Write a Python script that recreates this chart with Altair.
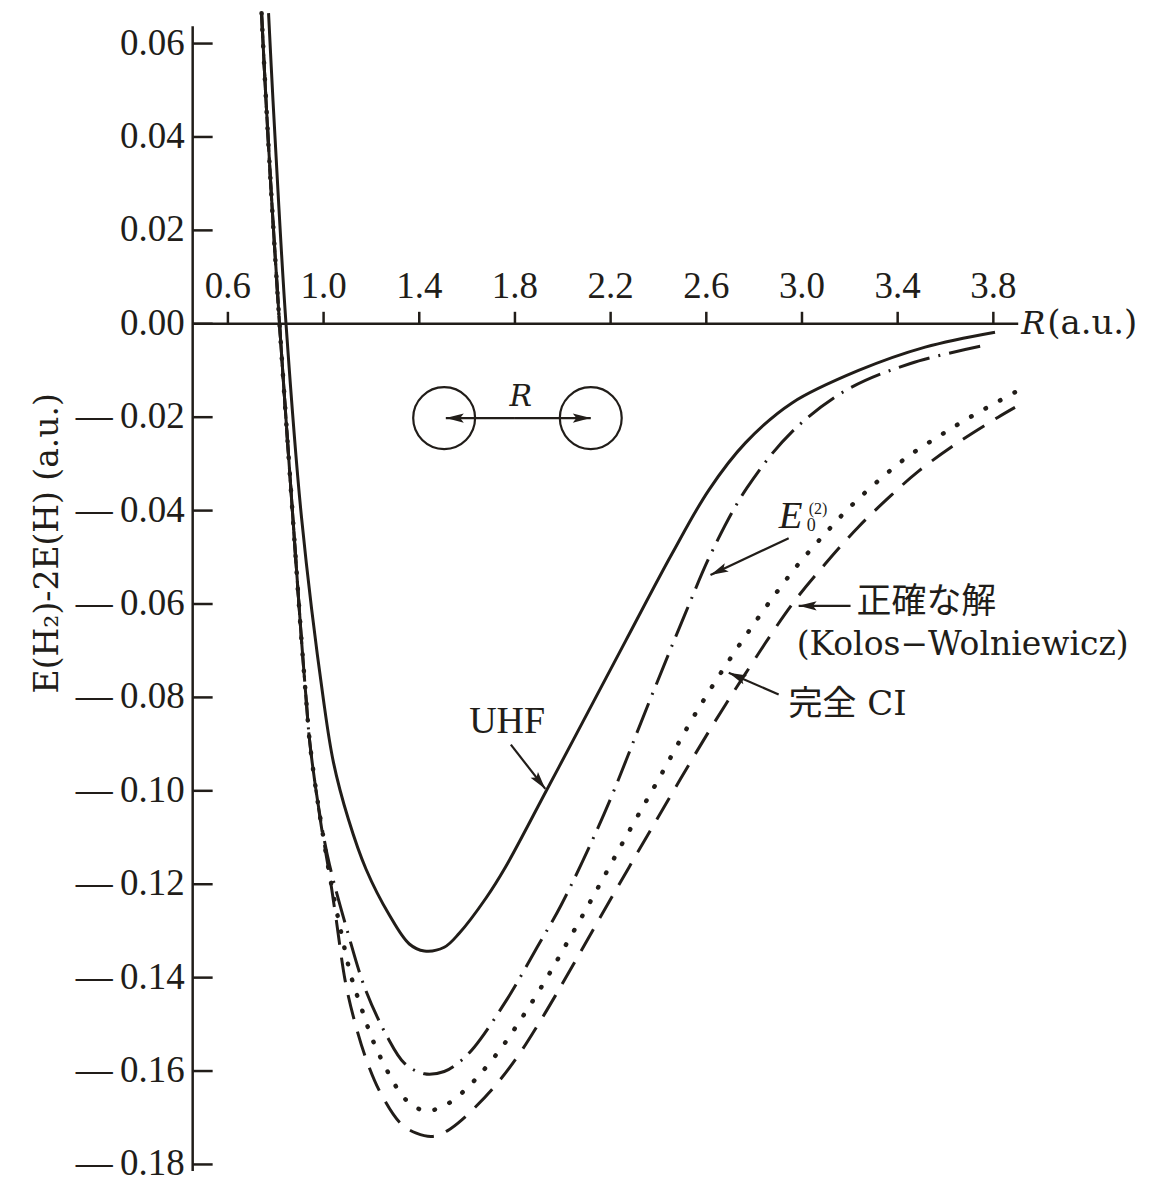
import math
import altair as alt
import pandas as pd

# ---------------- data ----------------
UHF_R = [0.7699, 0.7886, 0.8116, 0.8429, 0.9076, 0.9994, 1.0412, 1.1038, 1.1776, 1.2749, 1.3584, 1.4210, 1.5044,
         1.5671, 1.6785, 1.7619, 1.9289, 2.0512, 2.2628, 2.4560, 2.6105, 2.7636, 2.9568, 3.2365, 3.5149, 3.8070]
UHF_E = [0.0665, 0.0477, 0.0263, 0.0, -0.0414, -0.0805, -0.0939, -0.1061, -0.1168, -0.1266, -0.1328, -0.1343, -0.1335,
         -0.1305, -0.1230, -0.1162, -0.1002, -0.0884, -0.0679, -0.0493, -0.0356, -0.0255, -0.0170, -0.0100, -0.0050, -0.0018]

# the three correlated curves share the steep repulsive wall, printed there as one solid line
WALL_R = [0.7407, 0.7594, 0.7832, 0.8157, 0.8713, 0.9076]
WALL_E = [0.0665, 0.0477, 0.0263, 0.0, -0.0413, -0.0677]

MP2_R = [0.7407, 0.7594, 0.7832, 0.8157, 0.8713, 0.9076, 0.9272, 0.9410, 0.9620, 0.9912, 1.0245, 1.0997, 1.1747,
         1.2666, 1.3375, 1.4210, 1.5044, 1.5671, 1.6297, 1.7674, 1.8927, 1.9928, 2.1723, 2.3601, 2.5132, 2.6272,
         2.7691, 2.9569, 3.1823, 3.4536, 3.7653]
MP2_E = [0.0665, 0.0477, 0.0263, 0.0, -0.0413, -0.0677, -0.0805, -0.0890, -0.0976, -0.1072, -0.1158, -0.1301, -0.1425,
         -0.1527, -0.1583, -0.1606, -0.1601, -0.1581, -0.1549, -0.1446, -0.1335, -0.1245, -0.1050, -0.0811, -0.0619, -0.0484,
         -0.0352, -0.0232, -0.0143, -0.0085, -0.0046]

FCI_R = [0.7407, 0.7594, 0.7832, 0.8157, 0.8713, 0.9076, 0.9272, 0.9410, 0.9620, 0.9911, 1.0287, 1.0733, 1.1150,
         1.1568, 1.2040, 1.2666, 1.3292, 1.3709, 1.4281, 1.4836, 1.5379, 1.6005, 1.6589, 1.7424, 1.8175, 1.8927,
         1.9594, 2.0262, 2.1013, 2.2766, 2.4018, 2.5199, 2.6105, 2.7077, 2.8054, 2.8955, 2.9860, 3.0833, 3.1876,
         3.3062, 3.4381, 3.5841, 3.7093, 3.9180]
FCI_E = [0.0665, 0.0477, 0.0263, 0.0, -0.0413, -0.0677, -0.0805, -0.0890, -0.0976, -0.1074, -0.1190, -0.1303, -0.1397,
         -0.1463, -0.1532, -0.1600, -0.1653, -0.1673, -0.1686, -0.1679, -0.1664, -0.1636, -0.1604, -0.1551, -0.1495, -0.1435,
         -0.1378, -0.1318, -0.1250, -0.1087, -0.0974, -0.0865, -0.0788, -0.0711, -0.0638, -0.0574, -0.0514, -0.0457, -0.0399,
         -0.0342, -0.0286, -0.0237, -0.0198, -0.0139]

EX_R = [0.7407, 0.7594, 0.7832, 0.8157, 0.8713, 0.9076, 0.9272, 0.9410, 0.9620, 0.9911, 1.0245, 1.0537, 1.0904,
        1.1288, 1.1776, 1.2402, 1.3237, 1.3876, 1.4556, 1.5170, 1.5816, 1.7131, 1.8175, 1.9010, 1.9698, 2.0429,
        2.1264, 2.2766, 2.4436, 2.6105, 2.7636, 2.9568, 3.0975, 3.2359, 3.3736, 3.4863, 3.6533, 3.8202, 3.8905]
EX_E = [0.0665, 0.0477, 0.0263, 0.0, -0.0413, -0.0677, -0.0805, -0.0890, -0.0976, -0.1078, -0.1179, -0.1279, -0.1407,
        -0.1492, -0.1574, -0.1649, -0.1713, -0.1733, -0.1740, -0.1728, -0.1703, -0.1634, -0.1564, -0.1497, -0.1438, -0.1373,
        -0.1298, -0.1164, -0.1017, -0.0873, -0.0749, -0.0602, -0.0514, -0.0435, -0.0367, -0.0316, -0.0254, -0.0200, -0.0179]

X_TICKS = [0.6, 1.0, 1.4, 1.8, 2.2, 2.6, 3.0, 3.4, 3.8]
X_LABELS = ["0.6", "1.0", "1.4", "1.8", "2.2", "2.6", "3.0", "3.4", "3.8"]
Y_TICKS = [-0.18, -0.16, -0.14, -0.12, -0.10, -0.08, -0.06, -0.04, -0.02, 0.00, 0.02, 0.04, 0.06]
Y_LABELS = ["—\u20090.18", "—\u20090.16", "—\u20090.14", "—\u20090.12", "—\u20090.10", "—\u20090.08",
            "—\u20090.06", "—\u20090.04", "—\u20090.02", "0.00", "0.02", "0.04", "0.06"]
Y_TITLE = "E(H₂)-2E(H) (a.u.)"

ATOM_R = [1.504, 2.117]
ATOM_E = [-0.0202, -0.0202]

# ---------------- styling ----------------
INK = "#211d19"
TIMES = "Liberation Serif"
SERIF = "DejaVu Serif"
MIXED = "DejaVu Serif, Noto Sans CJK JP"
CJK = "Noto Sans CJK JP"

W, H = 827, 1150
X_DOM = [0.4527, 3.904]
Y_DOM = [-0.1814, 0.0644]
Y_AXIS_TOP = 0.0637
PX_R = W / (X_DOM[1] - X_DOM[0])
PX_E = H / (Y_DOM[1] - Y_DOM[0])

xs = alt.Scale(domain=X_DOM, nice=False, zero=False)
ys = alt.Scale(domain=Y_DOM, nice=False, zero=False)


def X(f="R"):
    return alt.X(f"{f}:Q", scale=xs, axis=None)


def Y(f="E"):
    return alt.Y(f"{f}:Q", scale=ys, axis=None)


def curve(R, E, **kw):
    style = dict(color=INK, strokeWidth=3, interpolate="catmull-rom", clip=False)
    style.update(kw)
    return alt.Chart(pd.DataFrame({"R": R, "E": E})).mark_line(**style).encode(x=X(), y=Y())


uhf = curve(UHF_R, UHF_E)
wall = curve(WALL_R, WALL_E)
mp2 = curve(MP2_R, MP2_E, strokeDash=[32, 9, 2, 9])
fci = curve(FCI_R, FCI_E, strokeWidth=4.5, strokeDash=[0.5, 16], strokeCap="round")
exact = curve(EX_R, EX_E, strokeDash=[25, 13])

# ---------------- axes (drawn through the scales) ----------------
x_line = alt.Chart(pd.DataFrame({"R1": [X_DOM[0]], "R2": [X_DOM[1]], "E": [0.0]})).mark_rule(
    color=INK, strokeWidth=2.5).encode(x=X("R1"), x2="R2:Q", y=Y())
x_ticks = alt.Chart(pd.DataFrame({"R": X_TICKS, "E": [0.0] * len(X_TICKS)})).mark_tick(
    orient="vertical", size=12, thickness=2.5, yOffset=-6, color=INK, opacity=1).encode(x=X(), y=Y())
x_labels = alt.Chart(pd.DataFrame({"R": X_TICKS, "E": [0.0] * len(X_TICKS), "t": X_LABELS})).mark_text(
    font=TIMES, fontSize=37, color=INK, align="center", baseline="alphabetic", dy=-26).encode(
    x=X(), y=Y(), text="t:N")

y_line = alt.Chart(pd.DataFrame({"E1": [Y_DOM[0]], "E2": [Y_AXIS_TOP]})).mark_rule(
    color=INK, strokeWidth=2.5).encode(x=alt.value(0), y=Y("E1"), y2="E2:Q")
y_ticks = alt.Chart(pd.DataFrame({"E": Y_TICKS})).mark_rule(color=INK, strokeWidth=2.5).encode(
    y=Y(), x=alt.value(0), x2=alt.value(20))
y_labels = alt.Chart(pd.DataFrame({"E": Y_TICKS, "t": Y_LABELS})).mark_text(
    font=TIMES, fontSize=37, color=INK, align="right", baseline="middle").encode(
    x=alt.value(-8), y=Y(), text="t:N")
y_title = alt.Chart(pd.DataFrame({"E": [-0.047], "t": [Y_TITLE]})).mark_text(
    font=SERIF, fontSize=33, color=INK, align="center", baseline="middle", angle=270).encode(
    x=alt.value(-145), y=Y(), text="t:N")

# ---------------- molecule sketch and arrows ----------------
atoms = alt.Chart(pd.DataFrame({"R": ATOM_R, "E": ATOM_E})).mark_point(
    shape="circle", size=3844, filled=False, color=INK, strokeWidth=2.2, opacity=1
).encode(x=X(), y=Y())


def arrow_row(r1, e1, r2, e2):
    dx = (r2 - r1) * PX_R
    dy = -(e2 - e1) * PX_E
    ang = math.degrees(math.atan2(dy, dx)) % 360
    return {"R1": r1, "E1": e1, "R2": r2, "E2": e2, "ang": ang}


ARROWS = pd.DataFrame([
    arrow_row(1.8, -0.0202, 1.511, -0.0202),      # molecule, left
    arrow_row(1.8, -0.0202, 2.117, -0.0202),      # molecule, right
    arrow_row(1.7828, -0.0901, 1.9270, -0.0996),  # UHF
    arrow_row(2.9444, -0.0459, 2.6175, -0.0538),  # E0(2)
    arrow_row(3.2030, -0.0604, 2.9861, -0.0604),  # exact
    arrow_row(2.9026, -0.0794, 2.6939, -0.0747),  # full CI
])

shafts = alt.Chart(ARROWS).mark_rule(color=INK, strokeWidth=2.2).encode(
    x=X("R1"), y=Y("E1"), x2="R2:Q", y2="E2:Q")
HEAD = "M0,0L-1,-0.26L-0.8,0L-1,0.26Z"
heads = alt.Chart(ARROWS).mark_point(
    shape=HEAD, size=1296, filled=True, color=INK, opacity=1, strokeWidth=0
).encode(x=X("R2"), y=Y("E2"), angle=alt.Angle("ang:Q", scale=None))


def label(df, **kw):
    base = dict(color=INK, clip=False)
    base.update(kw)
    return alt.Chart(pd.DataFrame(df)).mark_text(**base).encode(x=X(), y=Y(), text="t:N")


labels = [
    label({"R": [3.917], "E": [0.0], "t": ["R"]}, font=SERIF, fontSize=32, fontStyle="italic",
          align="left", baseline="middle"),
    label({"R": [4.025], "E": [0.0], "t": ["(a.u.)"]}, font=SERIF, fontSize=34,
          align="left", baseline="middle"),
    label({"R": [1.8245], "E": [-0.0157], "t": ["R"]}, font=SERIF, fontSize=30, fontStyle="italic",
          align="center", baseline="middle"),
    label({"R": [1.7674], "E": [-0.0852], "t": ["UHF"]}, font=TIMES, fontSize=38,
          align="center", baseline="middle"),
    label({"R": [2.9026], "E": [-0.0438], "t": ["E"]}, font=TIMES, fontSize=39, fontStyle="italic",
          align="left", baseline="alphabetic"),
    label({"R": [3.0194], "E": [-0.0444], "t": ["0"]}, font=TIMES, fontSize=18,
          align="left", baseline="alphabetic"),
    label({"R": [3.0278], "E": [-0.0408], "t": ["(2)"]}, font=TIMES, fontSize=16,
          align="left", baseline="alphabetic"),
    label({"R": [3.2281], "E": [-0.0596], "t": ["正確な解"]}, font=CJK, fontSize=35,
          align="left", baseline="middle"),
    label({"R": [2.978], "E": [-0.0687], "t": ["(Kolos−Wolniewicz)"]}, font=SERIF, fontSize=33,
          align="left", baseline="middle"),
    label({"R": [2.944], "E": [-0.0816], "t": ["完全 CI"]}, font=MIXED, fontSize=34,
          align="left", baseline="middle"),
]

chart = alt.layer(
    x_line, x_ticks, x_labels, y_line, y_ticks, y_labels, y_title,
    uhf, exact, fci, mp2, wall, atoms, shafts, heads, *labels
).properties(
    width=W, height=H,
    padding={"left": 185, "top": 14, "right": 125, "bottom": 10},
    autosize=alt.AutoSizeParams(type="none"),
    background="white",
).configure_view(stroke=None)

chart.save("out.html", embed_options={"renderer": "svg", "actions": False})
